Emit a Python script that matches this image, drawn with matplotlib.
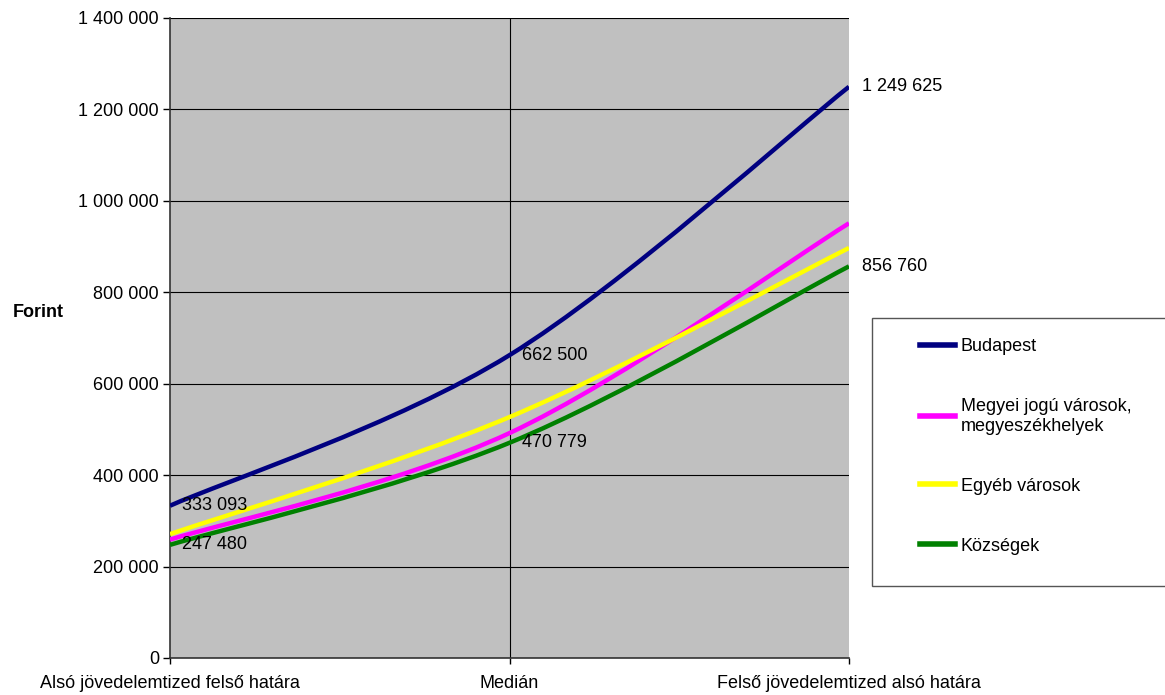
import matplotlib.pyplot as plt
from matplotlib.path import Path
from matplotlib.patches import PathPatch, Rectangle
from matplotlib.lines import Line2D
from matplotlib.ticker import FuncFormatter, MultipleLocator

plt.rcParams['font.family'] = ['Liberation Sans', 'DejaVu Sans']

# data
categories = ['Alsó jövedelemtized felső határa', 'Medián', 'Felső jövedelemtized alsó határa']
series_names = ['Budapest', 'Megyei jogú városok,\nmegyeszékhelyek', 'Egyéb városok', 'Községek']
budapest = [333093, 662500, 1249625]
megyei = [259000, 492000, 951000]
egyeb = [271000, 527000, 897000]
kozsegek = [247480, 470779, 856760]
colors = ['#000080', '#FF00FF', '#FFFF00', '#008000']

# which values get a data label
labelled = {0: budapest, 3: kozsegek}


def smooth_path(ys):
    """Excel-like smoothed line: Catmull-Rom style cubic Bezier through the points."""
    pts = list(zip(range(len(ys)), ys))
    verts = [pts[0]]
    codes = [Path.MOVETO]
    n = len(pts)
    for i in range(n - 1):
        p0 = pts[max(i - 1, 0)]
        p1 = pts[i]
        p2 = pts[i + 1]
        p3 = pts[min(i + 2, n - 1)]
        c1 = (p1[0] + (p2[0] - p0[0]) / 6, p1[1] + (p2[1] - p0[1]) / 6)
        c2 = (p2[0] - (p3[0] - p1[0]) / 6, p2[1] - (p3[1] - p1[1]) / 6)
        verts += [c1, c2, p2]
        codes += [Path.CURVE4] * 3
    return Path(verts, codes)


fig = plt.figure(figsize=(11.65, 6.95), dpi=100)
ax = fig.add_axes([170 / 1165, 37 / 695, 679 / 1165, 640 / 695])
ax.set_facecolor('#C0C0C0')

ax.set_xlim(0, 2)
ax.set_ylim(0, 1400000)
ax.yaxis.set_major_locator(MultipleLocator(200000))
ax.yaxis.set_major_formatter(FuncFormatter(lambda v, p: f'{int(v):,}'.replace(',', ' ')))
ax.set_xticks(range(len(categories)))
ax.set_xticklabels(categories)

ax.grid(axis='y', color='black', linewidth=0.8)
ax.axvline(1, color='black', linewidth=0.8, zorder=1)
ax.set_axisbelow(True)

for s in ['top', 'right']:
    ax.spines[s].set_visible(False)
for s in ['left', 'bottom']:
    ax.spines[s].set_color('#333333')
    ax.spines[s].set_linewidth(1.2)

ax.tick_params(axis='y', length=5, width=1, pad=3, labelsize=13)
ax.tick_params(axis='x', length=4, width=1, pad=8, labelsize=13)

ax.text(-0.232, 0.54, 'Forint', transform=ax.transAxes, fontsize=13,
        fontweight='bold', ha='left', va='center')

all_series = [budapest, megyei, egyeb, kozsegek]
for ys, c in zip(all_series, colors):
    patch = PathPatch(smooth_path(ys), facecolor='none', edgecolor=c,
                      linewidth=3.2, capstyle='butt', zorder=3)
    ax.add_patch(patch)

for idx, ys in labelled.items():
    for i, v in enumerate(ys):
        ax.annotate(f'{v:,}'.replace(',', ' '), xy=(i, v), xytext=(9, 0),
                    textcoords='offset points', fontsize=13, ha='left',
                    va='center', zorder=4, annotation_clip=False)

# legend box
fig.patches.append(Rectangle((872 / 1165, 109 / 695), 300 / 1165, 268 / 695,
                             transform=fig.transFigure, facecolor='white',
                             edgecolor='#555555', linewidth=1))
handles = [Line2D([], [], color=c, linewidth=4) for c in colors]
fig.legend(handles, series_names, loc='upper left',
           bbox_to_anchor=(920 / 1165, 1 - 338 / 695), frameon=False,
           fontsize=13, handlelength=1.95, handletextpad=0.3,
           labelspacing=2.38, borderpad=0, borderaxespad=0)

fig.savefig('out.png', dpi=100, facecolor='white')
